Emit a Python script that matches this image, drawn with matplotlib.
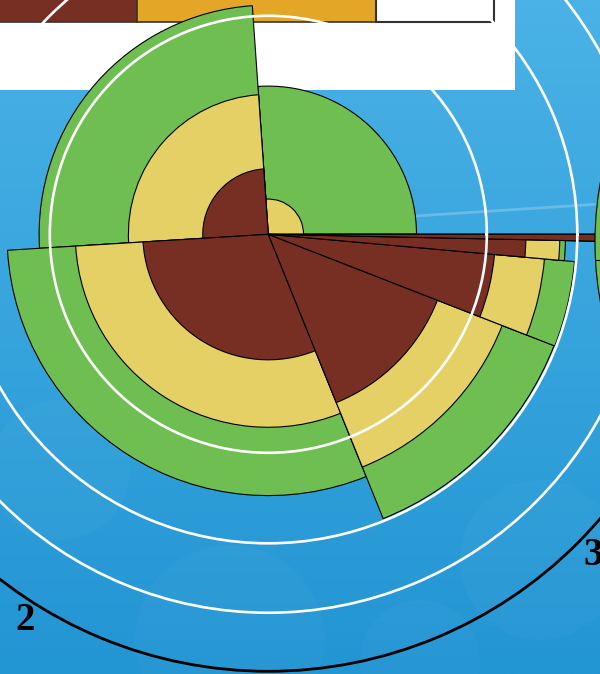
import numpy as np
import matplotlib
matplotlib.use("Agg")
import matplotlib.pyplot as plt
from matplotlib.patches import Rectangle, Ellipse

# sectors, counter-clockwise from east
labels = ["0", "1", "2", "3", "4", "5", "6"]
spans = [94.0, 89.5, 108.5, 46.7, 16.2, 3.9, 1.2]   # degrees
# layer values (area scale, radius = sqrt(value))
brown = [0.0, 0.09, 0.33, 0.69, 1.08, 1.39, 2.40]
yellow = [0.026, 0.41, 0.78, 1.32, 1.61, 1.78, 2.70]
green = [0.46, 1.10, 1.43, 1.97, 1.98, 1.85, 3.00]
rings = [1, 2, 3]
rmax = 4

c_brown = "#772F24"
c_yellow = "#E5D065"
c_green = "#6FBE52"
c_orange = "#E3A626"

W, H = 600, 674
fig = plt.figure(figsize=(W / 100, H / 100), dpi=100)

# slide background
bg = fig.add_axes([0, 0, 1, 1])
bg.set_xlim(0, W)
bg.set_ylim(H, 0)
bg.axis("off")
grad = np.linspace(0, 1, 256)[:, None]
top = np.array([0x4A, 0xB2, 0xE6]) / 255
bot = np.array([0x22, 0x95, 0xD3]) / 255
img = top[None, None, :] * (1 - grad[:, :, None]) + bot[None, None, :] * grad[:, :, None]
bg.imshow(img, extent=(0, W, H, 0), aspect="auto", zorder=0)
for (x, y, r) in [(230, 640, 95), (60, 470, 70), (540, 560, 80), (420, 660, 60)]:
    bg.add_patch(Ellipse((x, y), 2 * r, 2 * r, fc="white", ec="none", alpha=0.025))
bg.plot([415, 600], [216, 204], color="white", alpha=0.22, lw=2)

# white box with colour strip at top
bg.add_patch(Rectangle((0, 0), 515, 90, fc="white", ec="none", zorder=2))
bg.add_patch(Rectangle((-2, -2), 139, 24, fc=c_brown, ec="#333333", lw=1.2, zorder=3))
bg.add_patch(Rectangle((137, -2), 239, 24, fc=c_orange, ec="#333333", lw=1.2, zorder=3))
bg.add_patch(Rectangle((376, -2), 118, 24, fc="white", ec="#333333", lw=1.5, zorder=3))

# polar chart, centre at (268, 234) px, outer radius 437 px
cx, cy, R = 268.3, 234.3, 437
ax = fig.add_axes([(cx - R) / W, (H - cy - R) / H, 2 * R / W, 2 * R / H],
                  projection="polar")
ax.set_facecolor("none")

widths = np.deg2rad(spans)
starts = np.concatenate([[0], np.cumsum(widths)[:-1]])
mids = starts + widths / 2
for vals, col in [(green, c_green), (yellow, c_yellow), (brown, c_brown)]:
    ax.bar(starts, np.sqrt(vals), width=widths, bottom=0, align="edge",
           color=col, edgecolor="black", linewidth=0.8)

ax.set_ylim(0, np.sqrt(rmax))
ax.set_yticks(np.sqrt(rings))
ax.set_yticklabels([])
ax.yaxis.grid(True, color="white", linewidth=1.9)
ax.xaxis.grid(False)
ax.set_axisbelow(False)
ax.set_xticks(mids)
ax.set_xticklabels(labels, fontfamily="Liberation Serif", fontweight="bold",
                   fontsize=28)
ax.tick_params(axis="x", pad=7, length=0)
ax.spines["polar"].set_color("black")
ax.spines["polar"].set_linewidth(2.0)

# edge of neighbouring object at the right
fg = fig.add_axes([0, 0, 1, 1], zorder=5)
fg.set_xlim(0, W)
fg.set_ylim(H, 0)
fg.axis("off")
fg.add_patch(Ellipse((695, 242), 200, 370, fc=c_green, ec="black", lw=0.8))
fg.plot([596, 600], [260, 260], color="black", lw=0.8)

fig.savefig("out.png", dpi=100)
